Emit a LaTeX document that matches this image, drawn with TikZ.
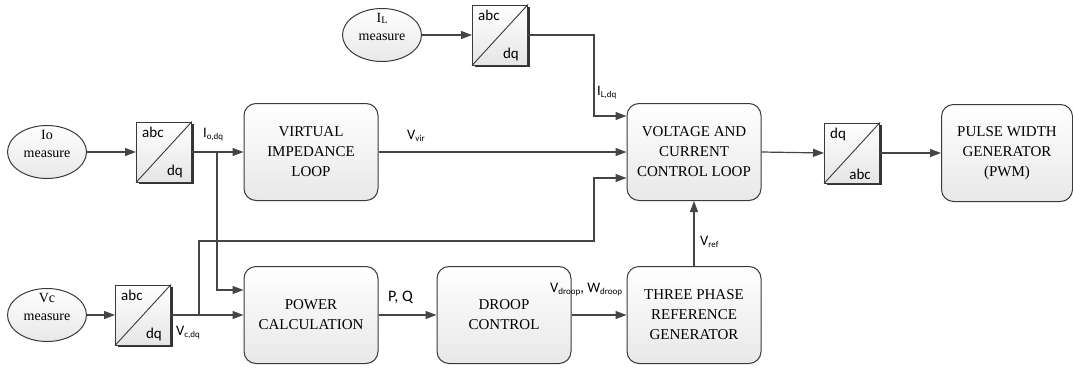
\documentclass[tikz,border=0pt]{standalone}
\usepackage{fontspec}
\setmainfont{Liberation Serif}
\newfontfamily\carl{Carlito}
\usetikzlibrary{arrows.meta,shadows,shapes.geometric}
\definecolor{lc}{HTML}{454545}
\definecolor{bc}{HTML}{3A3A3A}
\newcommand{\lsub}[1]{\raisebox{-2pt}{\fontsize{9}{9}\selectfont #1}}
\tikzset{
  conn/.style={draw=lc, line width=1.2pt},
  arr/.style={conn, -{Triangle[length=11pt,width=8pt]}},
  blk/.style={draw=bc, line width=1pt, rounded corners=12pt, minimum width=134pt, minimum height=97pt,
    top color=white, bottom color=black!9, align=center, inner sep=0pt,
    font=\fontsize{15}{20}\selectfont},
  conv/.style={draw=bc, line width=1pt, minimum width=55pt, minimum height=60pt, inner sep=0pt,
    top color=white, bottom color=black!10,
    drop shadow={shadow xshift=2pt, shadow yshift=-2pt, fill=black!80, opacity=1}},
  meas/.style={ellipse, draw=bc, line width=1pt, minimum width=79pt, minimum height=53pt, inner sep=0pt,
    top color=white, bottom color=black!9},
  mtxt/.style={align=center, anchor=base, inner sep=0pt, font=\fontsize{14}{18}\selectfont},
  ctxt/.style={inner sep=0pt, font=\carl\fontsize{15}{15}\selectfont},
  lab/.style={inner sep=0pt, anchor=base west, font=\carl\fontsize{14.5}{14.5}\selectfont},
}
\begin{document}
\begin{tikzpicture}[x=1pt,y=-1pt]
\useasboundingbox (0,0) rectangle (1073,367);

% measurement ellipses
\node[meas] (ilm) at (382,35) {};
\node[mtxt] (ilmt) at ([yshift=-5pt]ilm.center) {I\raisebox{-1pt}{\fontsize{10}{10}\selectfont L}\\measure};
\node[meas] (iom) at (47,152) {};
\node[mtxt] (iomt) at ([yshift=-5pt]iom.center) {Io\\measure};
\node[meas] (vcm) at (47,315) {};
\node[mtxt] (vcmt) at ([yshift=-5pt]vcm.center) {Vc\\measure};

% transformation blocks
\newcommand{\convblock}[4]{%
  \node[conv] (#1) at (#2) {};
  \draw[bc, line width=0.9pt] (#1.south west) -- (#1.north east);
  \node[ctxt, anchor=north west] (#1a) at ([xshift=6pt,yshift=-5pt]#1.north west) {#3};
  \node[ctxt, anchor=south east] (#1b) at ([xshift=-9pt,yshift=4pt]#1.south east) {#4};
}
\convblock{ilb}{500,35}{abc}{dq}
\convblock{iob}{164,152}{abc}{dq}
\convblock{vcb}{143,315}{abc}{dq}
\convblock{dqb}{852,153}{dq}{abc}

% main blocks
\node[blk] (vil) at (311,152) {VIRTUAL\\IMPEDANCE\\LOOP};
\node[blk] (vccl) at (694,152) {VOLTAGE AND\\CURRENT\\CONTROL LOOP};
\node[blk, minimum width=131pt] (pwm) at (1007,153) {PULSE WIDTH\\GENERATOR\\(PWM)};
\node[blk] (pc) at (311,315) {POWER\\CALCULATION};
\node[blk] (droop) at (504,315) {DROOP\\CONTROL};
\node[blk] (tprg) at (694,315) {THREE PHASE\\REFERENCE\\GENERATOR};

% helper coordinates
\coordinate (jio) at (217,152);
\coordinate (jvc) at (199,315);
\coordinate (kvc) at (594,241);
\coordinate (kil) at (594,116);

% connectors
\draw[arr] (ilm) -- (ilb);
\draw[arr] (iom) -- (iob);
\draw[arr] (vcm) -- (vcb);
\draw[arr] (ilb.east) -| (kil) -- (vccl.west |- kil);
\draw[arr] (iob.east) -- (vil.west);
\draw[arr] (jio) |- ([yshift=25pt]pc.west);
\draw[arr] (vcb.east) -- (pc.west);
\draw[arr] (jvc) |- (kvc) |- ([yshift=-26pt]vccl.west);
\draw[arr] (vil.east) -- (vccl.west);
\draw[arr] (pc.east) -- (droop.west);
\draw[arr] (droop.east) -- (tprg.west);
\draw[arr] (tprg.north) -- (vccl.south);
\draw[arr] (vccl.east) -- (dqb.west);
\draw[arr] (dqb.east) -- (pwm.west |- dqb.east);

% labels
\node[lab] (lio) at (203,137) {I\lsub{o,dq}};
\node[lab] (lil) at (597,95) {I\lsub{L,dq}};
\node[lab] (lvir) at (407,139) {V\lsub{vir}};
\node[lab] (lvc) at (176,335) {V\lsub{c,dq}};
\node[lab, font=\carl\fontsize{16}{16}\selectfont] (lpq) at (388,301) {P, Q};
\node[lab] (ldr) at (550,292) {V\lsub{droop}, W\lsub{droop}};
\node[lab] (lref) at (700,245) {V\lsub{ref}};
\end{tikzpicture}
\end{document}
